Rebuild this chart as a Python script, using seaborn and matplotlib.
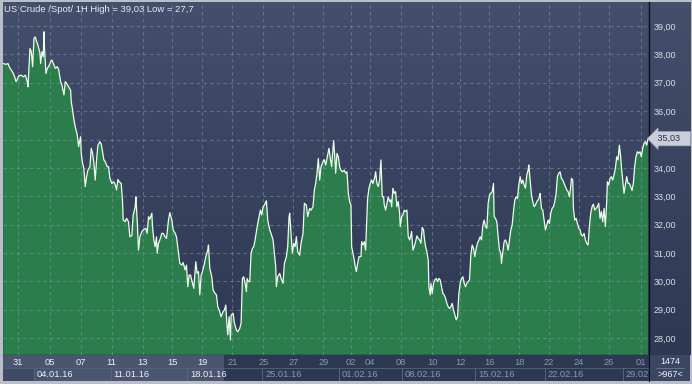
import numpy as np
import pandas as pd
import matplotlib
matplotlib.use("Agg")
import matplotlib.pyplot as plt
import matplotlib.transforms as mtransforms
from matplotlib.colors import LinearSegmentedColormap
import seaborn as sns

# hourly bar index and close price (US Crude spot, 1H)
hours = [
    4, 8, 11, 14, 16, 19, 21, 23, 25, 27, 31, 34, 37, 40, 41, 44, 46, 48, 50, 52,
    54, 56, 59, 60, 62, 64, 65, 66, 68, 70, 72, 75, 77, 80, 82, 85, 87, 90, 92, 95,
    97, 99, 102, 105, 106, 108, 110, 112, 115, 117, 120, 121, 123, 125, 127, 129, 131, 134, 136, 138,
    140, 142, 144, 146, 149, 151, 153, 155, 157, 160,
    162, 164, 167, 170, 172, 174, 176, 178, 181, 183, 184, 187, 189, 192, 194, 197, 199, 202, 203, 205,
    207, 209, 212, 215, 218, 220, 222, 224, 227, 228, 230, 232, 234, 235, 237, 239, 242, 244, 247, 249,
    252, 254, 257, 259, 262, 264, 267, 269, 272, 274, 277, 279, 281, 283, 285, 288, 290, 292, 293, 295,
    297, 299, 301, 303, 306, 308, 311, 312, 314, 317, 319, 322,
    324, 326, 329, 331, 334, 336, 338, 340, 341, 343, 345, 346, 349, 351, 354, 356, 359, 361, 363, 365,
    367, 369, 370, 372, 374, 376, 378, 380, 382, 384, 386, 388, 390, 392, 394, 396, 399, 401, 404, 406,
    409, 411, 413, 414, 416, 419, 421, 424, 426, 429, 431, 433, 434, 436, 438, 440, 442, 444, 446, 449,
    451, 454, 456, 459, 461, 464, 466, 469, 471, 473, 475, 477, 479, 481, 483, 485,
    486, 488, 491, 493, 495, 497, 498, 500, 502, 503, 505, 507, 509, 511, 513, 516, 518, 520, 522, 524,
    526, 527, 529, 531, 532, 534, 536, 538, 541, 542, 544, 546, 548, 549, 551, 553, 555, 557, 559, 562,
    563, 565, 567, 569, 571, 573, 575, 576, 578, 580, 582, 584, 586, 587, 589, 591, 593, 595, 597, 599,
    600, 602, 604, 606, 608, 610, 612, 614, 616, 617, 619, 621, 623, 625, 627, 629, 631, 633, 635, 636,
    638, 640, 642, 643, 645, 646,
    648, 650, 652, 654, 656, 658, 660, 662, 664, 666, 668, 670, 672, 674, 676, 678, 680, 682, 684, 686,
    688, 690, 692, 694, 696, 698, 700, 702, 704, 706, 708, 710, 712, 714, 716, 718, 720, 722, 724, 726,
    728, 730, 732, 734, 736, 738, 740, 741, 743, 745, 747, 749, 751, 752, 754, 756, 758, 760, 762, 764,
    766, 768, 770, 772, 774, 776, 778, 780, 782, 784, 786, 788, 790, 792, 793, 795, 797, 799, 801, 803,
    805, 807, 809,
    810, 812, 814, 816, 818, 820, 822, 824, 826, 828, 830, 832, 834, 836, 838, 840, 842, 844, 846, 848,
    850, 852, 854, 856, 857, 859, 860, 862, 864, 866, 868, 870, 872, 874, 876, 878, 880, 882, 884, 886,
    888, 890, 892, 894, 896, 898, 900, 902, 904, 906, 908, 910, 911, 913, 915, 917, 919, 921, 923, 925,
    927, 929, 931, 932, 934, 936, 938, 940, 942, 944, 946, 948, 950, 952, 954, 956, 958, 960, 962, 964,
    966, 968, 970, 972,
]
price = [
    37.68, 37.65, 37.68, 37.51, 37.45, 37.33, 37.21, 37.04, 37.12, 37.24, 37.27, 37.21, 37.27, 37.04, 36.86, 38.21, 38.10, 37.57, 38.57, 38.62,
    38.45, 38.33, 38.04, 37.68, 38.10, 37.92, 38.80, 38.15, 37.33, 37.51, 37.57, 37.74, 37.80, 37.63, 37.51, 37.57, 37.47, 37.04, 36.92, 36.57,
    37.04, 36.98, 36.86, 36.74, 36.33, 36.04, 35.69, 35.45, 35.16, 34.75, 35.10, 34.51, 34.16, 33.98, 33.34, 33.69, 33.92, 34.04, 34.69, 34.51,
    34.16, 33.57, 34.28, 34.80, 34.92, 34.84, 34.57, 34.28, 34.22, 34.04,
    34.04, 33.63, 33.45, 33.51, 33.40, 33.22, 33.59, 33.51, 33.45, 32.81, 32.16, 32.10, 32.22, 32.10, 31.57, 31.62, 32.34, 32.63, 32.98, 32.16,
    31.10, 31.57, 31.75, 31.83, 31.87, 31.69, 32.28, 32.19, 32.40, 31.93, 31.46, 31.22, 31.57, 30.99, 31.34, 31.46, 31.69, 31.69, 31.57, 31.51,
    32.16, 32.42, 32.16, 31.81, 31.69, 31.57, 30.99, 30.63, 30.57, 30.66, 30.40, 30.57, 29.81, 30.22, 30.22, 29.93, 29.75, 30.40, 30.69, 30.28,
    30.34, 29.52, 30.22, 30.34, 30.63, 30.87, 31.10, 31.28, 30.46, 30.16, 29.69, 29.57,
    29.52, 29.10, 28.93, 28.75, 28.93, 28.99, 29.16, 28.40, 28.11, 28.75, 27.93, 28.81, 28.87, 28.52, 28.28, 28.22, 28.34, 28.52, 30.10, 30.16,
    29.93, 29.63, 30.10, 29.99, 29.99, 30.99, 31.16, 31.22, 31.46, 31.75, 32.04, 32.28, 32.51, 32.34, 32.63, 32.69, 32.84, 32.16, 31.81, 31.69,
    31.46, 30.99, 30.52, 29.81, 30.16, 30.28, 30.10, 29.93, 30.63, 30.87, 31.22, 32.28, 32.40, 31.69, 30.99, 31.34, 31.22, 31.57, 31.04, 30.92,
    31.34, 31.69, 32.75, 32.69, 32.28, 32.57, 32.51, 32.63, 33.22, 33.45, 33.81, 34.33, 33.57, 34.04, 34.16, 34.28,
    34.28, 34.10, 34.45, 34.69, 34.33, 34.04, 34.39, 34.96, 34.28, 33.81, 34.51, 34.39, 34.04, 33.92, 33.86, 33.92, 33.81, 33.86, 33.10, 32.81,
    32.69, 31.22, 30.99, 30.75, 30.57, 30.34, 30.63, 30.87, 30.87, 31.40, 31.28, 31.40, 31.10, 31.75, 32.92, 33.28, 33.45, 33.57, 33.45, 33.69,
    33.86, 33.45, 33.34, 33.57, 34.28, 32.98, 32.98, 32.69, 32.51, 32.75, 32.98, 32.81, 32.87, 32.63, 33.28, 33.10, 33.16, 32.63, 32.81, 32.40,
    31.93, 32.28, 32.34, 32.51, 32.46, 32.51, 31.57, 31.46, 31.63, 31.75, 31.10, 31.22, 31.40, 31.60, 31.51, 31.46, 31.34, 31.90, 31.81, 31.57,
    31.22, 31.04, 30.75, 29.81, 29.52, 29.93,
    29.57, 29.93, 30.05, 30.10, 29.99, 30.10, 30.05, 29.81, 29.57, 29.52, 29.40, 29.22, 29.10, 29.04, 29.10, 29.22, 28.99, 28.81, 28.64, 28.75,
    29.57, 29.93, 30.10, 30.16, 29.93, 29.81, 29.93, 29.99, 30.05, 30.93, 31.28, 31.16, 30.87, 31.16, 31.34, 31.46, 31.57, 31.46, 31.98, 32.16,
    31.93, 31.87, 32.75, 33.04, 33.10, 33.16, 33.45, 32.28, 32.22, 32.10, 31.57, 31.10, 30.99, 30.63, 31.04, 31.40, 31.46, 31.34, 31.10, 31.46,
    31.81, 31.98, 32.46, 32.87, 32.98, 32.92, 33.40, 33.69, 33.45, 33.57, 33.40, 33.28, 33.75, 33.92, 34.10, 33.57, 33.04, 32.81, 32.63, 32.69,
    32.81, 32.87, 32.98,
    33.10, 32.57, 32.51, 32.16, 31.81, 31.98, 32.16, 32.04, 32.40, 32.57, 32.63, 32.81, 33.10, 33.69, 33.81, 33.86, 33.63, 33.57, 33.45, 33.34,
    33.22, 33.16, 32.98, 33.34, 33.63, 33.57, 32.57, 32.16, 32.22, 32.04, 31.87, 31.81, 31.63, 31.60, 31.69, 31.46, 31.34, 31.28, 31.93, 32.40,
    32.63, 32.72, 32.51, 32.57, 32.63, 32.75, 32.22, 32.46, 32.10, 32.57, 31.93, 32.81, 33.51, 33.40, 33.63, 33.69, 33.57, 33.75, 33.98, 34.39,
    34.28, 34.80, 34.39, 34.04, 33.57, 33.10, 33.40, 33.69, 33.45, 33.45, 33.34, 33.20, 33.45, 34.04, 34.39, 34.57, 34.51, 34.57, 34.39, 34.69,
    34.86, 34.92, 34.80, 35.03,
]

# time axis labels (bar index of each label)
day_ticks = [26, 73.5, 120, 166.5, 213, 258, 303, 348, 394.5, 439.5, 484.5,
             526.5, 555, 601.5, 648, 690, 733.5, 778.5, 823.5, 868.5, 913.5, 961.5]
day_labels = ["31", "05", "07", "11", "13", "15", "19", "21", "25", "27", "29",
              "02", "04", "08", "10", "12", "16", "18", "22", "24", "26", "01"]
week_starts = [49.5, 165, 280.5, 393, 508.5, 603, 712.5, 817.5, 934.5]
week_labels = ["04.01.16", "11.01.16", "18.01.16", "25.01.16", "01.02.16",
               "08.02.16", "15.02.16", "22.02.16", "29.02"]
price_ticks = list(range(28, 40))
last_price = 35.03
title = "US Crude /Spot/ 1H High = 39,03 Low = 27,7"

df = pd.DataFrame({"hour": hours, "price": price})

sns.set_style("dark")
plt.rcParams["font.family"] = ["Liberation Sans", "DejaVu Sans"]
plt.rcParams["font.size"] = 6.5

W, H = 692, 384
fig = plt.figure(figsize=(W / 100, H / 100), dpi=100, facecolor="#b9bec8")


def box(x0, y0, x1, y1):
    return [x0 / W, 1 - y1 / H, (x1 - x0) / W, (y1 - y0) / H]


grad = LinearSegmentedColormap.from_list("bg", ["#2d3853", "#434f6b"])
xmin, xmax = 3.5, 973.5
ymin, ymax = 27.40, 39.85

# right price panel
rax = fig.add_axes(box(649, 2, 690, 355))
rax.imshow(np.linspace(0, 1, 64).reshape(-1, 1)[::-1], aspect="auto", cmap=grad,
           extent=[0, 1, 0, 1], transform=rax.transAxes)
rax.set_axis_off()

# main chart
ax = fig.add_axes(box(3, 2, 649, 355))
ax.imshow(np.linspace(0, 1, 64).reshape(-1, 1)[::-1], aspect="auto", cmap=grad,
          extent=[0, 1, 0, 1], transform=ax.transAxes, zorder=0)
ax.fill_between(df["hour"], df["price"], ymin - 5, color="#2b7e4b", lw=0, zorder=1)
sns.lineplot(data=df, x="hour", y="price", ax=ax, color="#eefcec", lw=0.9,
             sort=False, zorder=3)
ax.set_xlim(xmin, xmax)
ax.set_ylim(ymin, ymax)
ax.set_xticks(day_ticks)
ax.set_yticks(price_ticks)
ax.grid(True, color="#8a97b6", alpha=0.5, lw=0.8, ls=(0, (3, 3)), zorder=2)
ax.set_axisbelow(False)
ax.yaxis.tick_right()
# the 35,00 label sits under the last-price marker
ax.set_yticklabels(["" if p == round(last_price) else f"{p},00" for p in price_ticks])
ax.tick_params(axis="x", length=0, labelbottom=False)
ax.tick_params(axis="y", length=0, pad=3.5, labelcolor="#d9dde8", labelsize=6.5)
ax.set_xlabel("")
ax.set_ylabel("")
for s in ["top", "left"]:
    ax.spines[s].set_visible(False)
for s in ["right", "bottom"]:
    ax.spines[s].set_color("#0b0f18")
    ax.spines[s].set_linewidth(1.0)

# last price marker on the scale
blend = mtransforms.blended_transform_factory(ax.transAxes, ax.transData)
ax.annotate(" " + f"{last_price:.2f}".replace(".", ",") + "   ", xy=(1.0, last_price),
            xycoords=blend, xytext=(4.5, 0), textcoords="offset points",
            ha="left", va="center", color="#27324c", fontsize=6.5, zorder=6,
            annotation_clip=False,
            bbox=dict(boxstyle="larrow,pad=0.3", fc="#c9ced8", ec="#9aa2b3", lw=0.5))

fig.text(4 / W, 1 - 10 / H, title, color="#e8ebf2", fontsize=6.8, va="center", ha="left")

# time scale
bax = fig.add_axes(box(3, 355, 649, 381))
bax.set_facecolor("#2d3853")
bax.set_xlim(xmin, xmax)
bax.set_ylim(0, 2)
bax.axvspan(xmin, 336, color="#4a5670", lw=0)
bax.axvspan(xmin, week_starts[0], ymax=0.5, color="#3f4a64", lw=0)
bax.axhline(1, color="#56627c", lw=0.6)
for ws in week_starts:
    bax.plot([ws, ws], [0, 1], color="#5d6983", lw=0.6)
for t, lab in zip(day_ticks, day_labels):
    c = "#eef1f7" if t < 336 else "#8c96ab"
    bax.text(t, 1.45, lab, ha="center", va="center", color=c, fontsize=6.7)
for t, lab in zip(week_starts, week_labels):
    c = "#eef1f7" if t < 336 else "#8c96ab"
    bax.text(t + 4, 0.5, lab, ha="left", va="center", color=c, fontsize=6.7, clip_on=True)
bax.set_xticks([])
bax.set_yticks([])
for s in bax.spines.values():
    s.set_visible(False)
bax.spines["right"].set_visible(True)
bax.spines["right"].set_color("#0b0f18")

# corner counters
cax = fig.add_axes(box(650, 355, 690, 381))
cax.set_facecolor("#3b4663")
cax.set_xlim(0, 1)
cax.set_ylim(0, 1)
cax.plot([0.15, 0.85], [0.5, 0.5], color="#6c7791", lw=0.6)
cax.text(0.5, 0.74, "1474", ha="center", va="center", color="#eef1f7", fontsize=6.5)
cax.text(0.5, 0.26, ">967<", ha="center", va="center", color="#eef1f7", fontsize=6.5)
cax.set_xticks([])
cax.set_yticks([])
for s in cax.spines.values():
    s.set_visible(False)

fig.savefig("out.png", dpi=100, facecolor=fig.get_facecolor())
